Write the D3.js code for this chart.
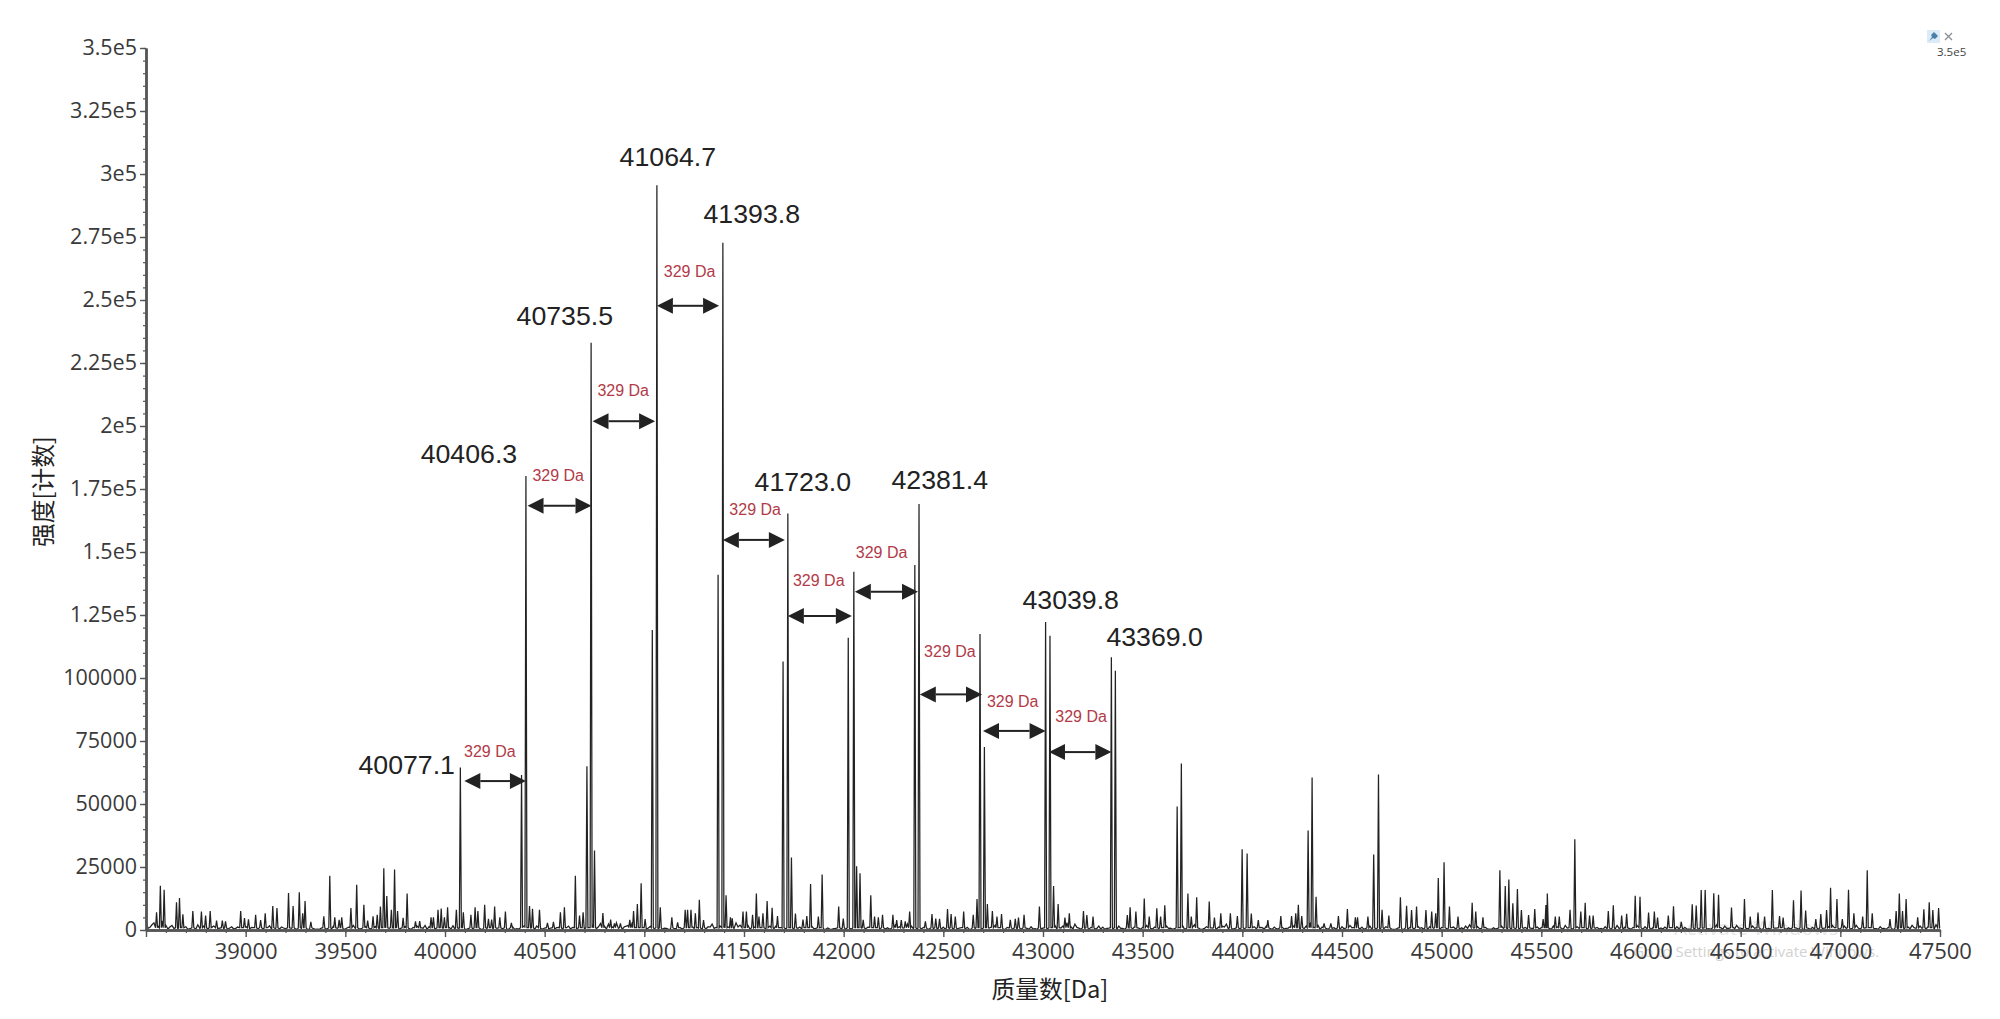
<!DOCTYPE html>
<html>
<head>
<meta charset="utf-8">
<script src="https://cdn.jsdelivr.net/npm/d3@7"></script>
<style>
  html, body { margin: 0; padding: 0; background: #fff; }
  .axis text { font-family: "Open Sans", sans-serif; font-size: 21.5px; fill: #3a3a3a; }
  .axis path, .axis line { stroke: #555; }
  .axis path { stroke-width: 2.4px; }
  .title { font-family: "Noto Sans CJK SC", sans-serif; font-size: 23.7px; fill: #222; }
  .peakLabel { font-family: "Liberation Sans", Arial, sans-serif; font-size: 26.7px; fill: #222; text-anchor: middle; }
  .gapLabel { font-family: "Liberation Sans", Arial, sans-serif; font-size: 16px; fill: #b23a48; text-anchor: middle; }
</style>
</head>
<body>
<div id="chart"></div>
<script>
// tick values, labels
const yTicks = [0, 25000, 50000, 75000, 100000, 125000, 150000, 175000, 200000, 225000, 250000, 275000, 300000, 325000, 350000];
const yTickLabels = ["0", "25000", "50000", "75000", "100000", "1.25e5", "1.5e5", "1.75e5", "2e5", "2.25e5", "2.5e5", "2.75e5", "3e5", "3.25e5", "3.5e5"];
const xTicks = [39000, 39500, 40000, 40500, 41000, 41500, 42000, 42500, 43000, 43500, 44000, 44500, 45000, 45500, 46000, 46500, 47000, 47500];

// the tall, evenly spaced peak series [Da, counts]
const mainPeaks = [[40077, 64500], [40406, 180150], [40733, 233000], [41063, 295500], [41394, 272700], [41720, 165300],
  [42051, 142200], [42378, 169000], [42684, 117500], [43013, 122200], [43343, 108200]];

// shoulders next to the main peaks and the tail of the series
const sidePeaks = [[40384, 61500], [40712, 65000], [40750, 31500], [41040, 119000], [41370, 141000], [41696, 106500], [41738, 28800],
  [42023, 116000], [42065, 25300], [42082, 22500], [42357, 144800], [42706, 72600], [43035, 116800], [43053, 17500], [43363, 102900],
  [43673, 49000], [43694, 66100], [43999, 32000], [44024, 30400], [44330, 39500], [44350, 60500], [44659, 30000], [44683, 61700], [45668, 36000]];

// smaller spikes above the noise
const minorPeaks = [[38553, 7000], [38572, 17600], [38591, 16000], [38653, 11000], [38668, 12700], [38685, 6200], [38735, 7500], [38778, 7300],
  [38799, 5700], [38822, 7500], [38854, 3700], [38883, 3700], [38899, 3400], [38975, 7500], [38994, 4700], [39014, 4200], [39050, 6000], [39075, 3900],
  [39098, 6600], [39136, 9500], [39157, 8700], [39215, 14700], [39238, 9500], [39269, 15000], [39286, 6600], [39298, 11500], [39327, 3200],
  [39392, 5400], [39422, 21500], [39447, 5000], [39469, 4000], [39482, 5000], [39528, 8700], [39557, 18000], [39593, 10000], [39612, 3700],
  [39639, 5400], [39660, 6000], [39676, 9300], [39693, 24500], [39708, 13500], [39731, 8000], [39747, 24000], [39762, 7500], [39790, 4800], [39810, 14500],
  [39852, 3400], [39873, 3500], [39930, 5000], [39942, 5000], [39965, 8000], [39981, 8500], [39997, 5000], [40013, 9000], [40057, 8000], [40092, 7000],
  [40130, 6000], [40151, 9000], [40165, 7500], [40199, 10000], [40218, 4400], [40234, 4100], [40249, 9300], [40275, 5000], [40303, 7300], [40333, 2800],
  [40424, 9500], [40439, 8400], [40474, 8000], [40514, 2800], [40544, 3200], [40579, 7000], [40599, 9000], [40654, 21500], [40675, 5700], [40693, 7000],
  [40792, 6700], [40831, 4100], [40850, 2600], [40880, 2600], [40927, 4000], [40946, 7500], [40965, 10300], [40984, 18500], [41004, 4300], [41080, 9000],
  [41138, 5000], [41167, 3000], [41205, 8000], [41217, 8000], [41234, 8000], [41256, 6600], [41276, 12000], [41297, 3900], [41410, 13800], [41432, 5000],
  [41441, 4600], [41495, 7300], [41512, 7300], [41543, 6000], [41562, 14500], [41575, 5300], [41595, 6600], [41616, 11500], [41641, 8800], [41668, 5500],
  [41758, 6500], [41796, 4100], [41815, 5500], [41834, 18200], [41873, 5300], [41892, 22000], [41975, 9300], [41998, 4500], [42098, 4000], [42136, 13800],
  [42155, 5300], [42174, 5000], [42195, 6000], [42247, 6000], [42266, 3900], [42289, 3900], [42309, 3400], [42331, 7300], [42410, 3400], [42443, 6300],
  [42462, 4500], [42481, 4400], [42521, 8300], [42539, 6300], [42560, 5300], [42602, 7300], [42650, 6000], [42669, 12300], [42721, 10300], [42746, 7500],
  [42769, 5300], [42792, 6300], [42836, 4000], [42861, 4400], [42877, 4900], [42905, 6000], [42982, 9300], [43076, 10300], [43110, 4900], [43132, 6600],
  [43203, 7500], [43220, 5900], [43251, 5300], [43423, 5900], [43437, 9000], [43466, 7300], [43508, 12500], [43533, 5300], [43571, 8600], [43590, 5300],
  [43611, 9800], [43727, 14500], [43744, 5300], [43771, 13000], [43834, 11300], [43860, 4900], [43892, 6600], [43940, 6600], [43975, 5500], [44045, 6500],
  [44080, 3900], [44128, 3900], [44193, 5500], [44247, 5500], [44268, 6600], [44281, 10000], [44298, 5500], [44370, 13200], [44410, 2600], [44444, 2600],
  [44482, 5500], [44527, 8300], [44567, 5000], [44578, 5000], [44630, 5300], [44701, 8000], [44735, 5700], [44793, 13000], [44824, 9600], [44849, 7900],
  [44874, 9300], [44921, 7900], [44950, 7300], [44970, 6600], [44983, 20600], [45012, 26900], [45039, 9300], [45082, 5300], [45153, 10800], [45171, 7300],
  [45207, 5000], [45292, 23700], [45319, 17500], [45337, 20000], [45357, 10600], [45380, 16300], [45400, 7900], [45436, 5900], [45467, 8300], [45509, 4300],
  [45523, 9900], [45530, 14500], [45570, 5300], [45590, 5300], [45644, 8000], [45698, 7300], [45720, 10800], [45742, 5700], [45760, 5700], [45836, 7500],
  [45861, 9800], [45903, 5700], [45928, 6400], [45971, 13600], [45995, 13200], [46038, 6900], [46067, 7300], [46083, 4900], [46137, 5700], [46163, 9400],
  [46202, 3200], [46257, 10200], [46277, 9700], [46302, 15900], [46322, 15900], [46365, 14600], [46389, 14000], [46454, 8900], [46519, 12300], [46548, 5300],
  [46587, 6900], [46620, 5300], [46659, 15900], [46695, 5500], [46713, 4900], [46765, 11800], [46803, 15700], [46826, 7700], [46877, 4300], [46902, 6300],
  [46931, 7900], [46951, 16800], [46983, 12300], [47010, 4300], [47041, 16000], [47068, 6600], [47112, 5300], [47135, 23700], [47160, 6600], [47249, 4300],
  [47280, 7500], [47296, 14500], [47312, 7500], [47330, 12300], [47388, 5000], [47419, 8200], [47446, 11000], [47464, 7900], [47493, 8700]];

// noise floor read every 20 Da from 38500, in units of 130 counts
const noiseStart = 38500, noiseStep = 20, noiseUnit = 130;
const noise = [
  30, 8, 22, 12, 28, 14, 9, 5, 3, 6, 10, 4, 7, 16, 22, 10, 6, 12, 4, 8, 14, 6, 3, 9, 5, 11, 4, 7, 3, 10, 5, 13, 3, 6, 9, 4, 2, 7, 3, 5, 8, 2, 4, 3, 6, 2, 3, 12, 5, 8,
  3, 9, 14, 6, 4, 11, 5, 8, 18, 7, 12, 5, 9, 15, 6, 10, 4, 8, 12, 7, 14, 10, 4, 6, 9, 3, 8, 13, 4, 6, 2, 5, 3, 7, 2, 4, 8, 3, 5, 2, 6, 3, 9, 4, 7, 14, 8, 5, 12, 4,
  6, 3, 10, 7, 16, 5, 12, 8, 4, 9, 3, 7, 14, 5, 20, 12, 18, 9, 22, 16, 10, 14, 24, 12, 28, 10, 6, 15, 9, 12, 6, 3, 8, 4, 7, 3, 5, 10, 4, 14, 6, 10, 18, 8, 12, 18, 9, 14, 22, 15,
  10, 14, 5, 16, 9, 18, 8, 22, 12, 7, 14, 6, 12, 4, 9, 16, 7, 12, 5, 8, 3, 6, 2, 5, 3, 4, 8, 3, 6, 4, 12, 8, 16, 6, 3, 12, 7, 5, 16, 10, 6, 18, 12, 7, 4, 8, 3, 6, 2, 5,
  9, 4, 8, 3, 6, 14, 8, 3, 5, 2, 6, 4, 9, 14, 7, 3, 8, 12, 5, 8, 3, 5, 10, 4, 2, 6, 3, 9, 14, 8, 12, 22, 10, 18, 6, 12, 5, 8, 3, 12, 9, 5, 14, 7, 12, 5, 9, 16, 10, 6,
  8, 14, 5, 9, 3, 7, 12, 6, 4, 8, 14, 5, 9, 16, 6, 3, 10, 7, 14, 9, 12, 18, 8, 4, 9, 6, 14, 5, 10, 16, 7, 12, 4, 9, 3, 8, 5, 10, 14, 6, 8, 12, 18, 8, 14, 9, 5, 12, 7, 3,
  10, 6, 14, 8, 4, 9, 5, 12, 8, 3, 6, 10, 4, 2, 6, 3, 5, 8, 3, 12, 7, 4, 10, 5, 3, 8, 6, 14, 9, 4, 7, 12, 16, 6, 10, 5, 8, 3, 7, 5, 12, 8, 4, 10, 6, 14, 8, 12, 5, 9,
  7, 16, 5, 12, 9, 6, 14, 8, 4, 10, 16, 6, 3, 12, 8, 5, 10, 4, 7, 14, 3, 9, 5, 8, 14, 6, 10, 4, 7, 3, 6, 9, 14, 5, 10, 4, 8, 3, 6, 5, 12, 8, 4, 9, 16, 7, 12, 5, 10, 14,
  6, 9, 4, 12, 7, 3, 8, 5, 14, 6, 10, 4, 7, 3, 6, 4, 2, 5, 8, 3, 12, 6, 10, 14, 7, 4, 12, 8, 5, 14, 3, 6, 16, 9, 4, 10, 5, 8, 3, 4, 6, 3, 9, 14, 5, 12, 7, 10, 6, 16, 8
];

// finer floor between those points, from 38510
const noiseFine = [
  5, 16, 4, 9, 6, 3, 14, 2, 7, 4, 2, 9, 3, 5, 12, 3, 8, 2, 6, 3, 2, 10, 5, 2, 7, 3, 8, 2, 5, 2, 7, 2, 4, 3, 6, 2, 5, 3, 2, 4, 2, 5, 2, 2, 3, 4, 2, 6, 2, 3,
  7, 2, 5, 3, 8, 2, 3, 10, 4, 2, 6, 3, 12, 2, 4, 6, 2, 10, 3, 5, 2, 6, 3, 2, 5, 9, 3, 2, 5, 2, 3, 2, 4, 2, 3, 5, 2, 3, 2, 4, 2, 5, 2, 3, 9, 3, 6, 2, 5, 3,
  2, 6, 3, 8, 2, 7, 3, 2, 6, 2, 4, 9, 2, 10, 6, 3, 8, 14, 5, 3, 12, 6, 10, 4, 7, 3, 11, 4, 3, 2, 5, 2, 4, 2, 3, 6, 2, 5, 8, 2, 4, 9, 5, 3, 6, 4, 12, 5, 9, 4,
  7, 3, 9, 4, 6, 3, 12, 4, 2, 8, 3, 7, 2, 5, 3, 8, 2, 4, 2, 3, 2, 3, 4, 2, 3, 2, 5, 2, 3, 6, 3, 9, 2, 5, 8, 3, 2, 7, 3, 5, 8, 3, 4, 2, 3, 2, 3, 4, 2, 3,
  2, 5, 2, 3, 7, 3, 2, 2, 4, 2, 3, 6, 2, 5, 3, 2, 6, 2, 3, 2, 5, 2, 3, 2, 4, 2, 5, 7, 3, 6, 4, 10, 3, 8, 2, 5, 2, 4, 5, 3, 2, 6, 3, 2, 5, 2, 8, 4, 3, 2,
  5, 2, 3, 2, 4, 3, 5, 2, 3, 7, 2, 4, 8, 3, 2, 5, 3, 6, 2, 5, 9, 3, 2, 5, 2, 4, 7, 2, 4, 8, 3, 5, 2, 4, 2, 3, 6, 3, 5, 2, 4, 9, 3, 6, 2, 4, 2, 5, 2, 2,
  4, 3, 7, 2, 3, 2, 5, 3, 2, 2, 4, 2, 2, 2, 3, 2, 2, 4, 2, 5, 2, 2, 4, 2, 2, 3, 2, 7, 3, 2, 3, 5, 8, 2, 4, 2, 3, 2, 3, 2, 5, 3, 2, 4, 2, 5, 3, 5, 2, 3,
  3, 6, 2, 5, 3, 2, 6, 3, 2, 5, 7, 2, 2, 5, 3, 2, 4, 2, 3, 5, 2, 3, 2, 3, 6, 2, 4, 2, 3, 2, 3, 4, 7, 2, 4, 2, 3, 2, 2, 2, 5, 3, 2, 4, 7, 3, 5, 2, 4, 6,
  3, 4, 2, 5, 2, 2, 3, 2, 6, 2, 4, 2, 3, 2, 2, 2, 2, 2, 3, 2, 5, 2, 4, 7, 3, 2, 5, 3, 2, 6, 2, 2, 7, 4, 2, 4, 2, 3, 2, 2, 2, 2, 4, 7, 2, 5, 3, 4, 2, 7
];

// peak labels, anchored in data coordinates (Da at centre, counts at baseline)
const peakLabels = ["40077.1", "40406.3", "40735.5", "41064.7", "41393.8", "41723.0", "42381.4", "43039.8", "43369.0"];
const peakLabelX = [39808, 40120, 40601, 41118, 41539, 41795, 42482, 43139, 43560];
const peakLabelY = [61900, 185300, 240000, 303200, 280500, 174200, 175000, 127400, 112700];

// the 329 Da gap arrows
const gapText = "329 Da";
const gapFrom = [40097, 40414, 40740, 41063, 41394, 41720, 42056, 42382, 42699, 43030];
const gapTo = [40406, 40735, 41054, 41375, 41705, 42041, 42373, 42694, 43013, 43343];
const gapY = [59100, 168400, 201900, 247700, 154800, 124600, 134200, 93500, 79000, 70600];
const gapLabelX = [40225, 40568, 40894, 41227, 41556, 41875, 42190, 42533, 42848, 43191];
const gapLabelY = [68800, 178200, 212000, 259100, 164700, 136700, 147700, 108300, 88600, 82700];

const width = 2000, height = 1019;
const margin = {top: 48, right: 60, bottom: 89, left: 146};

const svg = d3.select("#chart").append("svg")
    .attr("width", width)
    .attr("height", height)
    .style("display", "block");

const x = d3.scaleLinear().domain([38500, 47500]).range([margin.left, width - margin.right]);
const y = d3.scaleLinear().domain([0, 350000]).range([height - margin.bottom, margin.top]);

// faint activation watermark sits under the spectrum
svg.append("text").attr("x", x(46578)).attr("y", y(-2000))
    .attr("text-anchor", "middle")
    .style("font-family", "Open Sans").style("font-size", "20px").style("fill", "#e6e6e6")
    .text("Activate Windows");
svg.append("text").attr("x", x(46578)).attr("y", y(-10800))
    .attr("text-anchor", "middle")
    .style("font-family", "Open Sans").style("font-size", "15px").style("fill", "#d2d2d2")
    .text("Go to Settings to activate Windows.");

// build trace: noise floor plus a thin triangle for every peak
const flank = 5;
const allPeaks = mainPeaks.concat(sidePeaks, minorPeaks);
const floor = noise.map((d, i) => [noiseStart + i * noiseStep, d * noiseUnit])
    .concat(noiseFine.map((d, i) => [noiseStart + 10 + i * noiseStep, d * noiseUnit]));
const trace = floor.filter(p => !allPeaks.some(k => Math.abs(k[0] - p[0]) < flank + 1));
allPeaks.forEach(k => {
  trace.push([k[0] - flank, 900], [k[0], k[1]], [k[0] + flank, 900]);
});
trace.sort((a, b) => a[0] - b[0]);

const line = d3.line().x(d => x(Math.min(d[0], 47500))).y(d => y(d[1]));

svg.append("path")
    .datum(trace)
    .attr("d", line)
    .attr("fill", "none")
    .attr("stroke", "#222")
    .attr("stroke-width", 1.25);

// minor ticks first so the major axis draws on top
const yMinor = d3.range(0, 350001, 5000);
const xMinor = d3.range(38500, 47501, 100);

svg.append("g").attr("class", "axis")
    .attr("transform", `translate(${margin.left},0)`)
    .call(d3.axisLeft(y).tickValues(yMinor).tickSize(3).tickSizeOuter(0).tickFormat(""))
    .call(g => g.selectAll("line").style("stroke-width", 1.2));

svg.append("g").attr("class", "axis")
    .attr("transform", `translate(0,${height - margin.bottom})`)
    .call(d3.axisBottom(x).tickValues(xMinor).tickSize(3).tickSizeOuter(0).tickFormat(""))
    .call(g => g.selectAll("line").style("stroke-width", 1.2));

svg.append("g").attr("class", "axis")
    .attr("transform", `translate(${margin.left},0)`)
    .call(d3.axisLeft(y).tickValues(yTicks).tickSize(6).tickPadding(3).tickSizeOuter(0)
        .tickFormat((d, i) => yTickLabels[i]))
    .call(g => g.selectAll("line").style("stroke-width", 1.4));

svg.append("g").attr("class", "axis")
    .attr("transform", `translate(0,${height - margin.bottom})`)
    .call(d3.axisBottom(x).tickValues([38500].concat(xTicks)).tickSize(7).tickPadding(6).tickSizeOuter(0)
        .tickFormat(d => d === 38500 ? "" : d))
    .call(g => g.selectAll("line").style("stroke-width", 1.4))
    .call(g => g.selectAll("text").style("font-size", "22px"));

// axis titles
svg.append("text").attr("class", "title")
    .attr("x", x(43035)).attr("y", y(-27000))
    .attr("text-anchor", "middle")
    .text("质量数[Da]");

svg.append("text").attr("class", "title")
    .attr("transform", `translate(52,${y(174000)}) rotate(-90)`)
    .attr("text-anchor", "middle")
    .text("强度[计数]");

// peak labels
svg.selectAll(".peakLabel")
    .data(peakLabels)
    .enter()
    .append("text")
    .attr("class", "peakLabel")
    .attr("x", (d, i) => x(peakLabelX[i]))
    .attr("y", (d, i) => y(peakLabelY[i]))
    .text(d => d);

// double headed arrows and their labels
const headLen = 16, headHalf = 8;
const arrows = svg.selectAll(".gap")
    .data(gapFrom)
    .enter()
    .append("g")
    .attr("class", "gap");

arrows.append("line")
    .attr("x1", (d, i) => x(gapFrom[i]) + headLen)
    .attr("x2", (d, i) => x(gapTo[i]) - headLen)
    .attr("y1", (d, i) => y(gapY[i]))
    .attr("y2", (d, i) => y(gapY[i]))
    .attr("stroke", "#222")
    .attr("stroke-width", 2);

arrows.append("path")
    .attr("d", (d, i) => {
      const a = x(gapFrom[i]), b = x(gapTo[i]), m = y(gapY[i]);
      return `M${a},${m}L${a + headLen},${m - headHalf}V${m + headHalf}Z` +
             `M${b},${m}L${b - headLen},${m - headHalf}V${m + headHalf}Z`;
    })
    .attr("fill", "#222");

arrows.append("text")
    .attr("class", "gapLabel")
    .attr("x", (d, i) => x(gapLabelX[i]))
    .attr("y", (d, i) => y(gapLabelY[i]))
    .text(gapText);

// pinned cursor readout in the top right corner
const readout = svg.append("g").attr("transform", "translate(1933,37)");
readout.append("rect").attr("x", -6).attr("y", -7).attr("width", 13).attr("height", 13).attr("fill", "#dcebf7");
readout.append("path").attr("d", "M-4,4L-1,0L-2,-2L1,-5L5,-1L2,2L0,1Z").attr("fill", "#4a7fa8");
readout.append("path").attr("d", "M12,-4L19,3M19,-4L12,3").attr("stroke", "#8a8f96").attr("stroke-width", 1.3);
readout.append("text").attr("x", 4).attr("y", 19)
    .style("font-family", "Open Sans").style("font-size", "11.5px").style("fill", "#444")
    .text("3.5e5");
</script>
</body>
</html>
